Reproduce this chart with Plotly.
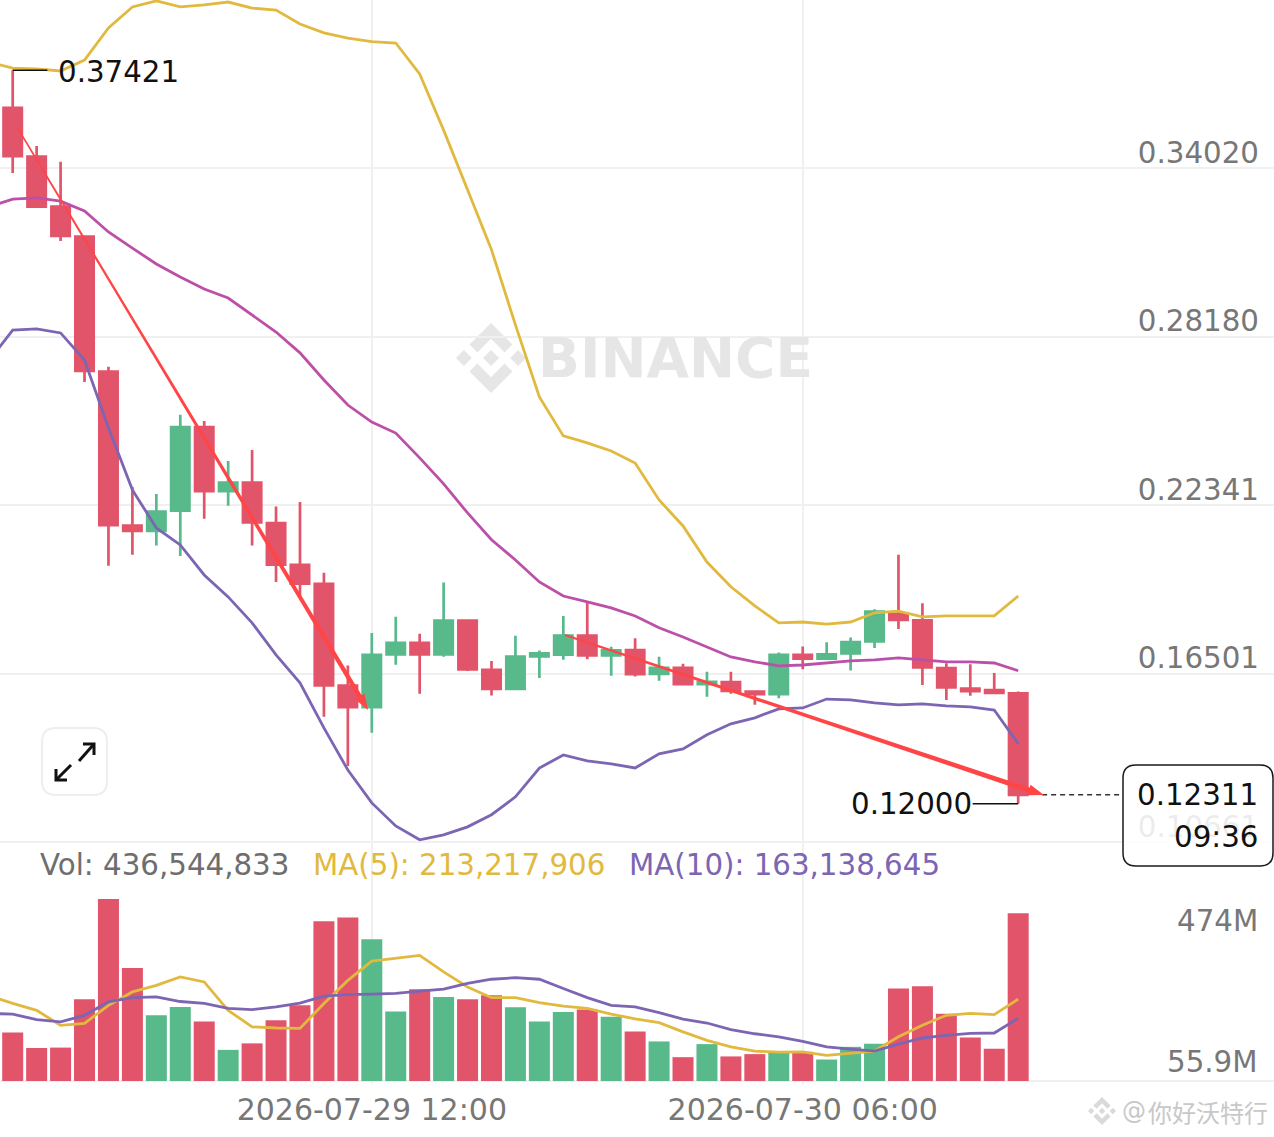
import math

import pandas as pd
import plotly.graph_objects as go

W, H = 1274, 1137

# hourly candles, first one 2026-07-28 21:00
opens = [.3612, .3443, .3270, .3166, .2698, .2164, .2146, .2216, .2506, .2284, .2313,
         .2173, .2028, .1962, .1610, .1535, .1718, .1758, .1718, .1835, .1664, .1598,
         .1711, .1717, .1783, .1714, .1733, .1650, .1671, .1615, .1622, .1589, .1580,
         .1716, .1703, .1721, .1763, .1858, .1836, .1670, .1599, .1594, .1583]
closes = [.3445, .3270, .3168, .2700, .2166, .2146, .2213, .2506, .2284, .2313, .2175,
          .2029, .1963, .1610, .1535, .1716, .1758, .1718, .1835, .1666, .1598, .1710,
          .1721, .1783, .1714, .1732, .1649, .1671, .1615, .1623, .1591, .1580, .1716,
          .1703, .1718, .1760, .1866, .1837, .1673, .1603, .1590, .1584, .12311]
highs = [.37421, .3480, .3425, .3166, .2715, .2298, .2274, .2548, .2527, .2388, .2426,
         .2230, .2246, .2001, .1679, .1792, .1848, .1789, .1967, .1835, .1695, .1782,
         .1731, .1851, .1897, .1744, .1774, .1710, .1685, .1658, .1658, .1589, .1724,
         .1745, .1760, .1776, .1874, .2063, .1895, .1687, .1684, .1653, .1589]
lows = [.3386, .3266, .3151, .2662, .2025, .2063, .2095, .2059, .2188, .2233, .2095,
        .1969, .1917, .1502, .1331, .1446, .1682, .1581, .1710, .1660, .1575, .1598,
        .1636, .1699, .1701, .1644, .1641, .1626, .1611, .1571, .1581, .1543, .1566,
        .1666, .1699, .1662, .1740, .1806, .1612, .1560, .1574, .1584, .12000]

# bands start one hour before the first candle (runs off the left edge)
band_upper = [.3771, .3750, .3747, .3740, .3778, .3889, .3962, .3983, .3962, .3969, .3979,
              .3958, .3951, .3903, .3872, .3854, .3842, .3837, .3730, .3535, .3328, .3120,
              .2860, .2610, .2475, .2451, .2423, .2381, .2253, .2163, .2038, .1952, .1886,
              .1827, .1830, .1823, .1830, .1862, .1868, .1848, .1851, .1851, .1851, .1920]
band_mid = [.3269, .3296, .3300, .3289, .3255, .3182, .3126, .3071, .3026, .2984, .2953,
            .2894, .2835, .2763, .2669, .2582, .2523, .2485, .2399, .2309, .2208, .2115,
            .2045, .1969, .1920, .1900, .1879, .1851, .1810, .1778, .1744, .1709, .1692,
            .1678, .1681, .1688, .1695, .1699, .1706, .1699, .1692, .1692, .1688, .1661]
band_lower = [.2735, .2842, .2846, .2832, .2738, .2503, .2288, .2156, .2097, .1993, .1917,
              .1827, .1716, .1619, .1463, .1317, .1203, .1123, .1075, .1092, .1120, .1162,
              .1224, .1324, .1369, .1349, .1338, .1324, .1373, .1390, .1439, .1477, .1498,
              .1529, .1532, .1563, .1560, .1550, .1543, .1546, .1539, .1536, .1525, .1408]

# volume in millions
volumes = [126, 86, 87, 213, 474, 294, 171, 193, 155, 81, 98, 158, 197, 416, 426, 369,
           181, 239, 219, 213, 223, 192, 155, 180, 186, 167, 129, 103, 62, 96, 64, 70,
           74, 76, 55.9, 89, 97, 241, 247, 175, 113, 84, 436.5]
vol_ma5 = [223, 202, 184, 145, 150, 197, 232, 249, 271, 258, 184, 141, 138, 137, 202, 262,
           312, 320, 327, 284, 245, 217, 217, 204, 195, 189, 174, 162, 152, 128, 106, 89,
           78, 75, 76, 67, 73, 78, 115, 145, 171, 176, 173, 213.2]
vol_ma10 = [176, 174, 160, 154, 171, 206, 217, 219, 207, 202, 189, 186, 193, 203, 221, 225,
            226, 228, 234, 239, 254, 265, 269, 265, 241, 217, 197, 193, 178, 161, 151, 134,
            123, 115, 103, 89, 83, 78, 96, 112, 119, 124, 125, 163.1]

price_ticks = [0.34020, 0.28180, 0.22341, 0.16501, 0.10661]
price_labels = ["0.34020", "0.28180", "0.22341", "0.16501", "0.10661"]
time_ticks = ["2026-07-29 12:00", "2026-07-30 06:00"]

RED = "#E2546A"
GREEN = "#58B98B"
YELLOW = "#E2B93F"
MAGENTA = "#BC50A8"
PURPLE = "#7C65B2"
ARROW = "#FF4545"
GRID = "#F0F0F0"
FONT = "DejaVu Sans"
FS = 29.3

times = pd.date_range("2026-07-28 20:00", periods=44, freq="h")
candle_times = times[1:]
t0 = candle_times[0]
vol_colors = [RED if c < o else GREEN for o, c in zip(opens, closes)]


def hours(h):
    return t0 + pd.Timedelta(hours=h)


def fx(x):
    return x / W


def fy(y):
    return 1 - y / H


def path(points, close=True):
    s = "M " + " L ".join(f"{fx(x)} {fy(y)}" for x, y in points)
    return s + (" Z" if close else "")


def round_rect(x0, y0, x1, y1, r):
    return (f"M {fx(x0 + r)} {fy(y0)} L {fx(x1 - r)} {fy(y0)} Q {fx(x1)} {fy(y0)} {fx(x1)} {fy(y0 + r)} "
            f"L {fx(x1)} {fy(y1 - r)} Q {fx(x1)} {fy(y1)} {fx(x1 - r)} {fy(y1)} "
            f"L {fx(x0 + r)} {fy(y1)} Q {fx(x0)} {fy(y1)} {fx(x0)} {fy(y1 - r)} "
            f"L {fx(x0)} {fy(y0 + r)} Q {fx(x0)} {fy(y0)} {fx(x0 + r)} {fy(y0)} Z")


LOGO = [
    [(9.79, 13.45), (16, 7.24), (22.21, 13.45), (25.82, 9.84), (16, 0), (6.18, 9.82)],
    [(0, 16), (3.61, 12.39), (7.22, 16), (3.61, 19.61)],
    [(9.79, 18.55), (16, 24.76), (22.21, 18.55), (25.82, 22.16), (16, 32), (6.18, 22.18)],
    [(24.78, 16), (28.39, 12.39), (32, 16), (28.39, 19.61)],
    [(19.67, 16), (16, 12.33), (12.33, 16), (16, 19.67)],
]


def logo_shapes(x, y, size, color):
    k = size / 32
    return [dict(type="path", xref="paper", yref="paper", layer="below",
                 path=path([(x + a * k, y + b * k) for a, b in poly]),
                 fillcolor=color, line_width=0) for poly in LOGO]


def arrow_shape(p0, p1, w0, w1, head_len, head_w):
    # hand-drawn look: thin at the start, fatter near the head
    dx, dy = p1[0] - p0[0], p1[1] - p0[1]
    d = math.hypot(dx, dy)
    ux, uy = dx / d, dy / d
    nx, ny = -uy, ux
    bx, by = p1[0] - ux * head_len, p1[1] - uy * head_len
    pts = [(p0[0] + nx * w0 / 2, p0[1] + ny * w0 / 2),
           (bx + nx * w1 / 2, by + ny * w1 / 2),
           (bx + nx * head_w, by + ny * head_w),
           p1,
           (bx - nx * head_w, by - ny * head_w),
           (bx - nx * w1 / 2, by - ny * w1 / 2),
           (p0[0] - nx * w0 / 2, p0[1] - ny * w0 / 2)]
    return dict(type="path", xref="paper", yref="paper", layer="above", path=path(pts),
                fillcolor=ARROW, line_width=0)


fig = go.Figure()

fig.add_trace(go.Candlestick(
    x=candle_times, open=opens, high=highs, low=lows, close=closes,
    increasing=dict(line=dict(color=GREEN, width=2.7), fillcolor=GREEN),
    decreasing=dict(line=dict(color=RED, width=2.7), fillcolor=RED),
    whiskerwidth=0, xaxis="x", yaxis="y", showlegend=False))

for vals, col in [(band_upper, YELLOW), (band_mid, MAGENTA), (band_lower, PURPLE)]:
    fig.add_trace(go.Scatter(x=times, y=vals, mode="lines", line=dict(color=col, width=2.8),
                             xaxis="x", yaxis="y", showlegend=False))

fig.add_trace(go.Bar(x=candle_times, y=volumes, width=3157000, marker=dict(color=vol_colors, line_width=0),
                     xaxis="x", yaxis="y2", showlegend=False))
for vals, col in [(vol_ma5, YELLOW), (vol_ma10, PURPLE)]:
    fig.add_trace(go.Scatter(x=times, y=vals, mode="lines", line=dict(color=col, width=2.8),
                             xaxis="x", yaxis="y2", showlegend=False))

shapes = []
shapes += logo_shapes(456, 323, 70, "#E6E6E6")
shapes += logo_shapes(1088, 1097, 28, "#DADADA")

# leaders for the high and low labels, dashed last price line
shapes.append(dict(type="line", xref="x", yref="y", x0=hours(0), x1=hours(1.45), y0=highs[0], y1=highs[0],
                   line=dict(color="#111111", width=1.5)))
shapes.append(dict(type="line", xref="x", yref="y", x0=hours(40.1), x1=hours(42), y0=lows[42], y1=lows[42],
                   line=dict(color="#111111", width=1.5)))
shapes.append(dict(type="line", xref="x", yref="y", x0=hours(43), x1=hours(46.3), y0=closes[42], y1=closes[42],
                   line=dict(color="#333333", width=1.5, dash="5px,4px")))

# last price box
shapes.append(dict(type="path", xref="paper", yref="paper", layer="above",
                   path=round_rect(1123, 765, 1273, 866, 13),
                   fillcolor="rgba(255,255,255,0.86)", line=dict(color="#1A1A1A", width=1.5)))

# expand button
shapes.append(dict(type="path", xref="paper", yref="paper", layer="above",
                   path=round_rect(42, 728, 107, 795, 14),
                   fillcolor="white", line=dict(color="#EEEEEE", width=2)))
for pts in [[(79, 761), (94, 744)], [(83, 744), (94, 744), (94, 755)],
            [(71, 765), (56, 780)], [(56, 769), (56, 780), (67, 780)]]:
    shapes.append(dict(type="path", xref="paper", yref="paper", layer="above",
                       path=path(pts, close=False), line=dict(color="#111111", width=3)))

# the two hand-drawn arrows
shapes.append(arrow_shape((17, 127), (368, 710), 1.5, 4.5, 16, 5.5))
shapes.append(arrow_shape((565, 635), (1044, 795), 2, 5, 16, 5.5))


def note(text, x, y, color, size=FS, anchor="left", family=FONT):
    return dict(text=text, x=fx(x), y=fy(y), xref="paper", yref="paper", showarrow=False,
                xanchor=anchor, yanchor="middle", font=dict(family=family, size=size, color=color))


annotations = [
    note("Vol: 436,544,833", 38, 865, "#6E6E6E"),
    note("MA(5): 213,217,906", 311, 865, YELLOW),
    note("MA(10): 163,138,645", 627, 865, PURPLE),
    note("<b>BINANCE</b>", 536, 358, "#E6E6E6", size=55),
    note("@", 1120, 1111, "#C8C8C8", size=24),
    note("你好沃特行", 1146, 1111, "#C8C8C8", size=24, family="Noto Sans CJK SC"),
    note("0.12311", 1260, 795, "#111111", anchor="right"),
    note("09:36", 1260, 837, "#111111", anchor="right"),
    dict(text="474M", x=fx(1260), xref="paper", y=474, yref="y2", yshift=-22, showarrow=False,
         xanchor="right", font=dict(family=FONT, size=FS, color="#777777")),
    dict(text="55.9M", x=fx(1260), xref="paper", y=55.9, yref="y2", yshift=-2, showarrow=False,
         xanchor="right", font=dict(family=FONT, size=FS, color="#777777")),
    dict(text="0.37421", x=hours(0), y=highs[0], xref="x", yref="y", xshift=43, yshift=-2, showarrow=False,
         xanchor="left", font=dict(family=FONT, size=FS, color="#111111")),
    dict(text="0.12000", x=hours(40.1), y=lows[42], xref="x", yref="y", xshift=1, showarrow=False,
         xanchor="right", font=dict(family=FONT, size=FS, color="#111111")),
]

# panels overlap their last gridline by a few px, plotly drops gridlines right on the range end
price_bottom = 846
vol_bottom = 1084

fig.update_layout(
    width=W, height=H, margin=dict(l=0, r=0, t=0, b=0),
    paper_bgcolor="white", plot_bgcolor="white",
    showlegend=False, boxgap=0.235, boxgroupgap=0, shapes=shapes, annotations=annotations,
    font=dict(family=FONT),
    xaxis=dict(domain=[0, 1], anchor="y2", type="date",
               range=[hours(-12.7 / 23.94), hours((W - 12.7) / 23.94)],
               rangeslider=dict(visible=False),
               tickvals=time_ticks, tickformat="%Y-%m-%d %H:%M",
               showgrid=True, gridcolor=GRID, gridwidth=1.5, ticks="", zeroline=False,
               showline=False, ticklabelstandoff=5,
               tickfont=dict(family=FONT, size=30, color="#777777")),
    yaxis=dict(domain=[1 - price_bottom / H, 1], anchor="x", side="right",
               range=[0.10536, 0.39860], tickvals=price_ticks, ticktext=price_labels,
               ticklabelposition="inside", ticklabelshift=-16, ticklabelstandoff=12,
               showgrid=True, gridcolor=GRID, gridwidth=1.5, ticks="", zeroline=False,
               tickfont=dict(family=FONT, size=FS, color="#777777")),
    yaxis2=dict(domain=[1 - vol_bottom / H, 1 - price_bottom / H], anchor="x", side="right",
                range=[-3 * 2.604, (1081 - price_bottom) * 2.604], showticklabels=False,
                tickvals=[0], showgrid=True, gridcolor=GRID, gridwidth=1.5, zeroline=False, ticks=""),
)

fig.write_html("out.html", config={"displayModeBar": False},
               post_script="document.body.style.margin = '0';")
